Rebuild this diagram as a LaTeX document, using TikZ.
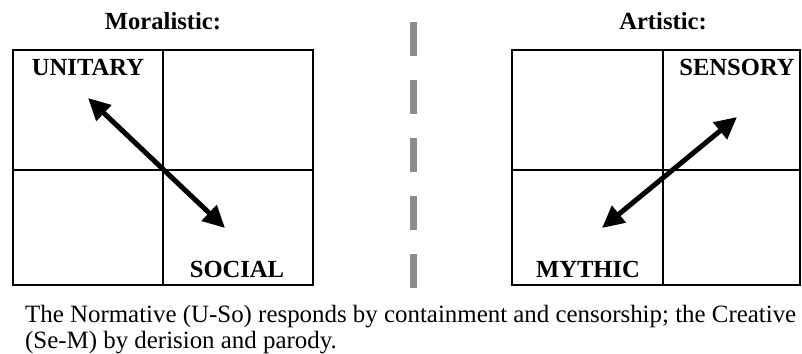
\documentclass[tikz,border=0pt]{standalone}
\usepackage{fontspec}
\setmainfont{Liberation Serif}
\usetikzlibrary{arrows.meta}
\begin{document}
\begin{tikzpicture}[x=1pt,y=-1pt,
  grid/.style={line width=1.8pt},
  title/.style={anchor=base,font=\bfseries\fontsize{24.6}{28}\selectfont},
  lbl/.style={anchor=base,font=\bfseries\fontsize{24.6}{28}\selectfont},
  dbl/.style={line width=5pt,{Triangle[length=22pt,width=21pt]}-{Triangle[length=22pt,width=21pt]}},
  sep/.style={draw=gray!90,line width=7pt,dash pattern=on 34pt off 24pt}]
\useasboundingbox (0,0) rectangle (802,353);
% left box
\draw[grid] (13,50) rectangle (313,285);
\draw[grid] (163,50) -- (163,285);
\draw[grid] (13,170) -- (313,170);
\node[title] (t1) at (163,30) {Moralistic:};
\node[lbl] (u) at (88,75) {UNITARY};
\node[lbl] (so) at (237,277) {SOCIAL};
\coordinate (a1) at (88,98);
\coordinate (a2) at (225,228);
\draw[dbl] (a1) -- (a2);
% separator
\coordinate (s1) at (413,22);
\coordinate (s2) at (413,290);
\draw[sep] (s1) -- (s2);
% right box
\draw[grid] (512,50) rectangle (800,285);
\draw[grid] (663,50) -- (663,285);
\draw[grid] (512,170) -- (800,170);
\node[title] (t2) at (663,30) {Artistic:};
\node[lbl] (se) at (737,75) {SENSORY};
\node[lbl] (m) at (588,277) {MYTHIC};
\coordinate (b1) at (602,228);
\coordinate (b2) at (737,117);
\draw[dbl] (b1) -- (b2);
% caption
\node[anchor=base west,align=left,inner sep=0pt,font=\fontsize{24.9}{26}\selectfont] (cap) at (25,348)
  {The Normative (U-So) responds by containment and censorship; the Creative\\(Se-M) by derision and parody.};
\end{tikzpicture}
\end{document}
